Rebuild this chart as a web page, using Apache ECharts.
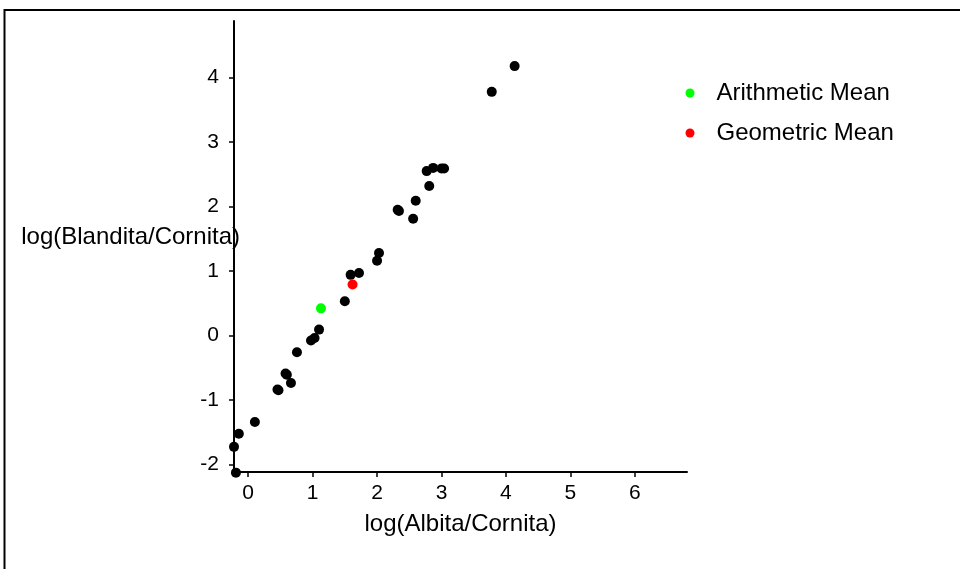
<!DOCTYPE html>
<html>
<head>
<meta charset="utf-8">
<script src="https://cdn.jsdelivr.net/npm/echarts@6/dist/echarts.min.js"></script>
<style>
  html, body { margin: 0; padding: 0; background: #fff; }
  #chart { width: 960px; height: 569px; }
</style>
</head>
<body>
<div id="chart"></div>
<script>
// samples: [log(Albita/Cornita), log(Blandita/Cornita)]
const samples = [
  [4.135, 4.18], [3.78, 3.78],
  [2.77, 2.55], [2.87, 2.60], [3.00, 2.59], [3.04, 2.59],
  [2.81, 2.32], [2.60, 2.09], [2.32, 1.95], [2.34, 1.93], [2.56, 1.81],
  [2.03, 1.28], [2.00, 1.16], [1.59, 0.94], [1.72, 0.97],
  [1.50, 0.53], [1.10, 0.09], [1.03, -0.04], [0.975, -0.08],
  [0.757, -0.26], [0.58, -0.59], [0.60, -0.61], [0.664, -0.74],
  [0.455, -0.84], [0.47, -0.85], [0.104, -1.345], [-0.145, -1.525],
  [-0.22, -1.73], [-0.19, -2.13]
];
const arithmeticMean = [[1.13, 0.42]];
const geometricMean = [[1.62, 0.79]];
const xTicks = [0, 1, 2, 3, 4, 5, 6];
const yTicks = [-2, -1, 0, 1, 2, 3, 4];

const font = "'Liberation Sans', Arial, sans-serif";
const chart = echarts.init(document.getElementById('chart'));

chart.setOption({
  animation: false,
  backgroundColor: '#fff',
  graphic: [{
    type: 'rect',
    shape: { x: 4.5, y: 10, width: 1200, height: 800 },
    style: { fill: 'none', stroke: '#000', lineWidth: 2 },
    silent: true
  }],
  grid: { left: 234, right: 273, top: 21, bottom: 97, containLabel: false, outerBoundsMode: 'none' },
  legend: {
    orient: 'vertical',
    left: 685.5,
    top: 81,
    padding: 0,
    itemWidth: 9,
    itemHeight: 9,
    itemGap: 16,
    icon: 'circle',
    textStyle: { fontFamily: font, fontSize: 24, color: '#000', padding: [0, 0, 0, 17] },
    data: ['Arithmetic Mean', 'Geometric Mean']
  },
  xAxis: {
    type: 'value',
    min: -0.22,
    max: 6.81,
    name: 'log(Albita/Cornita)',
    nameLocation: 'middle',
    nameGap: 40,
    nameTextStyle: { fontFamily: font, fontSize: 24, color: '#000' },
    splitLine: { show: false },
    axisLine: { show: true, onZero: false, lineStyle: { color: '#000', width: 2 } },
    axisTick: { show: true, length: 5, customValues: xTicks, lineStyle: { color: '#000', width: 1.5 } },
    axisLabel: { customValues: xTicks, margin: 11, fontFamily: font, fontSize: 21, color: '#000' }
  },
  yAxis: {
    type: 'value',
    min: -2.12,
    max: 4.88,
    name: 'log(Blandita/Cornita)',
    nameLocation: 'middle',
    nameRotate: 0,
    nameGap: -6,
    nameMoveOverlap: false,
    nameTextStyle: { fontFamily: font, fontSize: 24, color: '#000', verticalAlign: 'bottom', lineHeight: 18 },
    splitLine: { show: false },
    axisLine: { show: true, onZero: false, lineStyle: { color: '#000', width: 2 } },
    axisTick: { show: true, length: 5, customValues: yTicks, lineStyle: { color: '#000', width: 1.5 } },
    axisLabel: { customValues: yTicks, margin: 15, fontFamily: font, fontSize: 21, color: '#000' }
  },
  series: [
    {
      name: 'Samples', type: 'scatter', data: samples, clip: false,
      symbolSize: 10, itemStyle: { color: '#000', opacity: 1 }
    },
    {
      name: 'Arithmetic Mean', type: 'scatter', data: arithmeticMean, clip: false,
      symbolSize: 10, itemStyle: { color: '#00ff00', opacity: 1 }
    },
    {
      name: 'Geometric Mean', type: 'scatter', data: geometricMean, clip: false,
      symbolSize: 10, itemStyle: { color: '#ff0000', opacity: 1 }
    }
  ]
});
</script>
</body>
</html>
